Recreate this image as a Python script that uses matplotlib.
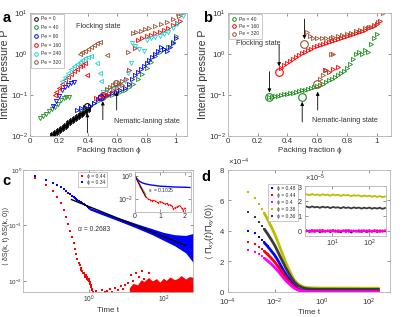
import matplotlib
matplotlib.use('Agg')
import matplotlib.pyplot as plt
from matplotlib.lines import Line2D
import numpy as np

plt.rcParams['font.family'] = ['Liberation Sans', 'DejaVu Sans', 'STIXGeneral']
plt.rcParams['mathtext.fontset'] = 'custom'
plt.rcParams['mathtext.rm'] = 'Liberation Sans'
plt.rcParams['mathtext.it'] = 'Liberation Sans:italic'
plt.rcParams['mathtext.bf'] = 'Liberation Sans:bold'
plt.rcParams['mathtext.fallback'] = 'stixsans'

# ---------------- colours ----------------
C_K = '#000000'; C_G = '#1a8f1a'; C_B = '#0000ff'; C_R = '#ff0000'
C_C = '#19d4d4'; C_BR = '#a0522d'
C_Y = '#bdbd00'; C_DK = '#3a3a3a'; C_M = '#ff00ff'

# ---------------- panel a data ----------------
pe_labels_a = ['Pe = 0', 'Pe = 40', 'Pe = 80', 'Pe = 160', 'Pe = 240', 'Pe = 320']

pe0_phi = [0.15,0.16,0.17,0.18,0.19,0.20,0.21,0.22,0.23,0.24,0.25,0.26,0.27,0.28,0.29,0.30,
           0.31,0.32,0.33,0.34,0.35,0.36,0.37,0.38,0.39,0.40]
pe0_P = [0.0105,0.011,0.0118,0.0125,0.0133,0.014,0.015,0.016,0.017,0.018,0.019,0.0202,0.0215,
         0.0228,0.024,0.0255,0.027,0.0285,0.030,0.032,0.034,0.036,0.038,0.040,0.043,0.046]

pe40_lo_phi = [0.35,0.38,0.41,0.44,0.47,0.50,0.53,0.56,0.59,0.62,0.65,0.68,0.71,0.74,0.77,0.80,
               0.83,0.86,0.89,0.92,0.95,0.98,1.00]
pe40_lo_P = [0.042,0.048,0.055,0.063,0.072,0.082,0.092,0.10,0.11,0.12,0.135,0.16,0.19,0.24,0.32,
             0.45,0.65,0.9,1.1,1.3,1.5,2.0,2.8]
pe40_hi_phi = [0.07,0.09,0.11,0.13,0.15,0.17,0.19,0.21,0.23,0.25,0.27]
pe40_hi_P = [0.028,0.031,0.035,0.04,0.045,0.052,0.06,0.075,0.085,0.088,0.09]

pe80_lo_phi = [0.32,0.35,0.38,0.41,0.44,0.47,0.50,0.53,0.56,0.59,0.62,0.65,0.68,0.70,0.72,0.74,
               0.76,0.78,0.80,0.82,0.84,0.86,0.88,0.90,0.92,0.94,0.96,0.98,1.0]
pe80_lo_P = [0.043,0.047,0.05,0.055,0.065,0.078,0.09,0.1,0.11,0.12,0.13,0.15,0.19,0.24,0.3,0.36,
             0.42,0.5,0.6,0.7,0.85,1.0,1.2,1.45,1.35,1.2,1.5,1.9,2.4]
pe80_hi_phi = [0.16,0.18,0.20,0.22,0.24,0.26,0.28,0.30]
pe80_hi_P = [0.055,0.07,0.095,0.13,0.16,0.18,0.2,0.21]

pe160_hi_phi = [0.17,0.18,0.20,0.22,0.24,0.26,0.28,0.30,0.32,0.34,0.36,0.38,0.39]
pe160_hi_P = [0.1,0.12,0.15,0.19,0.23,0.28,0.32,0.38,0.44,0.5,0.55,0.62,0.3]
pe160_lo_phi = [0.45,0.48,0.51,0.54,0.57,0.60,0.63,0.66,0.68,0.72,0.74,0.77,0.80,0.83,0.86,0.89,
                0.92,0.95,0.98,1.01,1.03]
pe160_lo_P = [0.085,0.09,0.1,0.11,0.13,0.15,0.18,0.25,0.4,1.4,2.2,2.5,2.7,2.9,3.2,3.5,3.9,4.4,
              5.0,5.8,6.3]

pe240_hi_phi = [0.22,0.24,0.26,0.28,0.30,0.32,0.34,0.36,0.38,0.40,0.42,0.46,0.48,0.49]
pe240_hi_P = [0.22,0.28,0.35,0.42,0.5,0.58,0.65,0.72,0.8,0.85,0.9,0.6,0.35,0.22]
pe240_lo_phi = [0.50,0.53,0.56,0.59,0.62,0.65,0.67,0.69,0.70,0.72,0.75,0.78,0.80,0.83,0.86,0.89,
                0.92,0.95,0.98,1.01,1.05]
pe240_lo_P = [0.12,0.13,0.14,0.16,0.18,0.22,0.35,0.6,1.9,1.6,1.3,1.2,2.2,2.4,2.6,2.8,3.0,3.5,
              4.2,5.5,8.5]

pe320_hi_phi = [0.34,0.36,0.38,0.40,0.42,0.44,0.46,0.48,0.53]
pe320_hi_P = [1.0,1.1,1.2,1.3,1.45,1.65,1.85,2.0,0.95]
pe320_lo_phi = [0.53,0.55,0.57,0.59,0.61,0.63,0.675,0.71,0.73,0.76,0.79,0.82,0.86,0.90,0.94,
                0.98,1.02,1.04]
pe320_lo_P = [0.14,0.16,0.18,0.19,0.2,0.22,1.1,3.3,3.5,3.7,4.0,4.3,4.7,5.3,5.9,7.0,8.5,9.8]

a_circ_phi = [0.39, 0.49, 0.50, 0.59]
a_circ_P = [0.053, 0.09, 0.1, 0.2]
a_circ_col = [C_K, C_B, C_R, C_BR]
a_arrow_phi = [0.394, 0.50, 0.595]
a_arrow_tail = [0.012, 0.025, 0.043]
a_arrow_tip = [0.036, 0.07, 0.12]

# ---------------- panel b data ----------------
pe_labels_b = ['Pe = 40', 'Pe = 160', 'Pe = 320']
b40_phi = [0.28,0.30,0.32,0.34,0.36,0.38,0.40,0.42,0.44,0.46,0.48,0.50,0.52,0.54,0.56,0.58,0.60,
           0.62,0.64,0.66,0.68,0.70,0.72,0.74,0.76,0.78,0.80,0.82,0.84,0.86,0.88,0.90,0.92,0.94,
           0.96,0.98,1.00]
b40_P = [0.09,0.088,0.092,0.097,0.1,0.105,0.105,0.11,0.115,0.12,0.125,0.13,0.13,0.14,0.15,0.16,
         0.17,0.18,0.19,0.21,0.23,0.25,0.28,0.31,0.34,0.39,0.46,0.56,0.75,1.0,1.15,1.0,1.25,1.1,
         1.8,2.5,3.0]
b160_phi = [0.36,0.38,0.40,0.42,0.44,0.46,0.48,0.50,0.52,0.54,0.56,0.58,0.60,0.62,0.64,0.66,0.68,
            0.70,0.72,0.74,0.76,0.78,0.80,0.82,0.84,0.86,0.88,0.90,0.92,0.94,0.96,0.98,1.00,1.02,
            0.65,0.68,0.71,0.74]
b160_P = [0.45,0.55,0.62,0.68,0.75,0.85,0.95,1.05,1.15,1.25,1.35,1.45,1.55,1.65,1.75,1.85,2.0,
          2.1,2.2,2.3,2.5,2.6,2.8,2.9,3.1,3.3,3.5,3.7,3.9,4.2,4.5,4.9,5.5,6.5,
          0.4,0.37,0.42,0.48]
b320_phi = [0.53,0.55,0.57,0.60,0.63,0.66,0.69,0.71,0.74,0.77,0.80,0.83,0.86,0.89,0.92,0.95,0.98,
            1.01,1.04,0.62,0.64,0.66,0.69,0.71]
b320_P = [3.5,2.8,2.4,2.4,2.4,2.4,2.5,2.6,2.7,2.9,3.0,3.2,3.6,3.9,4.2,4.6,5.0,6.0,10.0,
          0.24,0.3,0.4,1.0,1.0]
b_circ_phi = [0.28, 0.345, 0.515, 0.50, 0.60]
b_circ_P = [0.09, 0.37, 1.8, 0.087, 0.19]
b_circ_col = [C_G, C_R, C_BR, C_G, C_BR]
b_arrow_phi = [0.345, 0.28, 0.515, 0.50, 0.604]
b_arrow_tail = [1.67, 0.37, 7.1, 0.022, 0.043]
b_arrow_tip = [0.5, 0.115, 2.3, 0.068, 0.12]

# ---------------- panel c data ----------------
c_labels = ['\u03d5 = 0.44', '\u03d5 = 0.34']
red_t = [0.034,0.068,0.102,0.136,0.17,0.204,0.238,0.272,0.306,0.34,0.374,0.408,0.442,0.476,0.51,
         0.544,0.578,0.612,0.646,0.68,0.714,0.748,0.782,0.816,0.85,0.884,0.918,0.952,0.986,1.02,
         1.054,1.088,1.122,1.156,1.19,1.224,1.258]
red_y = [0.71,0.54,0.42,0.32,0.25,0.19,0.14,0.105,0.08,0.062,0.048,0.038,0.03,0.025,0.021,0.019,
         0.017,0.016,0.015,0.014,0.014,0.013,0.012,0.013,0.012,0.011,0.0105,0.011,0.01,0.0095,
         0.0088,0.0083,0.0078,0.0072,0.0068,0.0063,0.006]
red_sp_t = [1.5,1.8,2.2,2.6,3.0,3.5,4.0,5.0,6.0,7.0,8.0,9.0,11,13,15,18,22,26,30,40]
red_sp_y = [0.0065,0.006,0.0068,0.0062,0.0066,0.007,0.0064,0.0075,0.0068,0.008,0.0072,0.0085,
            0.009,0.013,0.01,0.014,0.012,0.015,0.011,0.014]
red_env_t = [12,15,20,25,30,40,50,65,80,100,120,150,200,250,300,400,500,650]
red_env_hi = [0.0075,0.009,0.0085,0.0105,0.0098,0.0115,0.01,0.011,0.0095,0.0112,
              0.0102,0.0118,0.0105,0.0112,0.0125,0.0108,0.012,0.0115]
blue_t = [0.034,0.068,0.102,0.136,0.17,0.204,0.238,0.272,0.306,0.34,0.374,0.408,0.442,0.476,0.51,
          0.578,0.646,0.714,0.782,0.85,0.918,0.986]
blue_y = [0.79,0.66,0.58,0.53,0.49,0.46,0.42,0.39,0.365,0.345,0.33,0.315,0.3,0.29,0.28,0.265,
          0.25,0.24,0.23,0.22,0.212,0.205]
blue_env_t = [1.0,2.0,5.0,10,20,50,100,200,400,650]
blue_env_mid = [0.2,0.168,0.135,0.115,0.097,0.077,0.064,0.053,0.044,0.04]
blue_env_lo = [0.192,0.16,0.127,0.106,0.088,0.068,0.054,0.043,0.032,0.021]
blue_env_hi = [0.208,0.176,0.143,0.124,0.106,0.087,0.075,0.068,0.066,0.072]
fit_alpha_t = [0.33, 390]
fit_alpha = 0.2683
fit_alpha_amp = 0.217
# inset
ci_blue_t = [0,0.05,0.1,0.15,0.2,0.3,0.4,0.5,0.6,0.8,1.0,1.3,1.6,2.0,2.2]
ci_blue_y = [1,0.7,0.5,0.4,0.32,0.25,0.21,0.19,0.17,0.15,0.13,0.12,0.11,0.105,0.1]
ci_red_t = [0,0.1,0.2,0.33,0.4,0.53,0.6,0.67,0.73,0.8,0.87,0.93,1.0,1.07,1.13,1.2,1.27,1.33,1.4,
            1.47,1.53,1.6,1.67,1.73,1.8,1.87,1.93,2.0]
ci_red_y = [1,0.35,0.12,0.037,0.02,0.01,0.009,0.007,0.008,0.007,0.0055,0.005,0.006,0.0055,0.0045,
            0.0037,0.0042,0.003,0.0033,0.0027,0.0014,0.0018,0.002,0.0024,0.0027,0.0016,0.001,0.0017]
tau_c = 0.1025
tau_t = [0, 0.45]
brown_tau = 0.115
brown_t = [0, 0.42]

# ---------------- panel d data ----------------
d_labels = ['\u03d5 = 0.48', '\u03d5 = 0.44', '\u03d5 = 0.4', '\u03d5 = 0.38', '\u03d5 = 0.36']
d_t = [7e-4,1.4e-3,2.1e-3,2.8e-3,3.5e-3,5e-3,7e-3,0.01,0.015,0.02,0.03,0.05,0.07,0.1,0.15,0.2,
       0.3,0.5,1,3,10,30,100,300]
d_y48 = [4.01,3.84,3.6,3.4,3.25,2.98,2.7,2.4,1.95,1.6,1.15,0.65,0.38,0.18,0.08,0.04,0.015,0.005,
         0,0,0,0,0,0]
d_y44 = [3.25,3.11,2.95,2.8,2.68,2.45,2.22,1.95,1.6,1.3,0.92,0.52,0.3,0.14,0.06,0.03,0.01,0.003,
         0,0,0,0,0,0]
d_y40 = [2.74,2.59,2.45,2.33,2.22,2.03,1.83,1.6,1.3,1.05,0.72,0.4,0.22,0.1,0.04,0.02,0.008,0.002,
         0,0,0,0,0,0]
d_y38 = [6.58,6.14,5.75,5.45,5.2,4.75,4.3,3.8,3.1,2.6,1.9,1.15,0.75,0.5,0.35,0.29,0.26,0.245,
         0.24,0.24,0.24,0.235,0.23,0.23]
d_y36 = [5.22,4.89,4.6,4.35,4.15,3.8,3.45,3.05,2.5,2.1,1.55,0.95,0.62,0.4,0.27,0.21,0.18,0.165,
         0.16,0.16,0.155,0.155,0.15,0.15]
di_t = [2,2.4,2.8,3.3,3.9,4.6,5.4,6.4,7.5,8.8,10.4,12.2,14.4,17,20,23.5,27.7,32.6,38.4,45,53,
        62.5,73.6,86.7,102,120,141,166,196,231,272]
di_y38 = [2.45,2.38,2.47,2.4,2.44,2.36,2.46,2.39,2.43,2.35,2.44,2.38,2.42,2.34,2.41,2.37,2.4,2.32,
          2.39,2.35,2.38,2.3,2.37,2.31,2.36,2.28,2.34,2.27,2.33,2.26,2.3]
di_y36 = [1.62,1.56,1.64,1.57,1.61,1.54,1.62,1.56,1.6,1.52,1.6,1.55,1.58,1.51,1.59,1.53,1.57,1.5,
          1.57,1.52,1.56,1.49,1.55,1.5,1.56,1.48,1.54,1.49,1.55,1.47,1.53]
di_y48 = [0.02,-0.08,0.05,-0.05,0.03,-0.1,0.04,-0.06,0.02,-0.09,0.05,-0.04,0.01,-0.1,0.03,-0.06,
          0.04,-0.12,0.02,-0.05,0.03,-0.08,0.01,-0.1,0.04,-0.07,0.02,-0.09,0.03,-0.06,0.01]
di_y44 = [-0.04,0.03,-0.07,0.04,-0.02,0.05,-0.08,0.02,-0.05,0.04,-0.06,0.03,-0.09,0.02,-0.04,0.05,
          -0.07,0.03,-0.05,0.02,-0.08,0.04,-0.03,0.03,-0.07,0.02,-0.05,0.04,-0.08,0.03,-0.04]
di_y40 = [0.01,-0.06,0.04,-0.09,0.02,-0.04,0.06,-0.07,0.03,-0.05,0.01,-0.08,0.04,-0.03,0.02,-0.09,
          0.05,-0.04,0.01,-0.07,0.03,-0.05,0.04,-0.08,0.02,-0.04,0.05,-0.07,0.01,-0.05,0.03]

# ---------------- figure ----------------
fig = plt.figure(figsize=(4.15, 3.17), dpi=100)
ax_a = fig.add_axes([0.0723, 0.571, 0.378, 0.388])
ax_b = fig.add_axes([0.5487, 0.571, 0.3935, 0.388])
ax_c = fig.add_axes([0.0547, 0.0789, 0.4096, 0.385])
ax_d = fig.add_axes([0.5487, 0.0798, 0.391, 0.384])
ax_ci = fig.add_axes([0.3253, 0.3322, 0.1342, 0.1252])
ax_di = fig.add_axes([0.7349, 0.2555, 0.1952, 0.1575])

SP = '#b4b4b4'; TC = '#333333'
TL = 5.8   # tick label size
XL = 5.8   # x-label size
TX = 5.2   # annotation text size


def style(ax, ls=TL):
    for s in ax.spines.values():
        s.set_color(SP)
        s.set_linewidth(0.6)
    ax.tick_params(which='both', direction='in', length=2, width=0.5, color='#666666',
                   labelsize=ls, labelcolor=TC, pad=1.5, top=True, right=True)
    ax.tick_params(which='minor', length=0)


MS = 3.0; MEW = 0.6


def tri(ax, x, y, col, mk):
    ax.plot(x, y, linestyle='none', marker=mk, ms=MS, mfc='none', mec=col, mew=MEW)


def legend_style(leg):
    leg.get_frame().set_edgecolor(SP)
    leg.get_frame().set_linewidth(0.5)
    for t in leg.get_texts():
        t.set_color(TC)


# ---- panel a ----
ax = ax_a
tri(ax, pe0_phi, pe0_P, C_K, '<')
tri(ax, pe0_phi, pe0_P, C_K, '>')
tri(ax, pe40_hi_phi, pe40_hi_P, C_G, 'v')
tri(ax, pe40_lo_phi, pe40_lo_P, C_G, '>')
tri(ax, pe80_hi_phi, pe80_hi_P, C_B, 'v')
tri(ax, pe80_lo_phi, pe80_lo_P, C_B, '>')
tri(ax, pe160_hi_phi, pe160_hi_P, C_R, '<')
tri(ax, pe160_lo_phi, pe160_lo_P, C_R, '>')
tri(ax, pe240_hi_phi, pe240_hi_P, C_C, '<')
tri(ax, pe240_lo_phi, pe240_lo_P, C_C, 'v')
tri(ax, pe320_hi_phi, pe320_hi_P, C_BR, '<')
tri(ax, pe320_lo_phi, pe320_lo_P, C_BR, '>')
for x, y, c in zip(a_circ_phi, a_circ_P, a_circ_col):
    ax.plot(x, y, 'o', ms=4.2, mfc='none', mec=c, mew=0.8)
for x, t0, t1 in zip(a_arrow_phi, a_arrow_tail, a_arrow_tip):
    ax.annotate('', xy=(x, t1), xytext=(x, t0),
                arrowprops=dict(arrowstyle='-|>', color='k', lw=0.6, mutation_scale=5,
                                shrinkA=0, shrinkB=0))
ax.set_yscale('log')
ax.set_xlim(0, 1.077)
ax.set_ylim(1e-2, 10)
ax.set_xticks([0, 0.2, 0.4, 0.6, 0.8, 1.0])
ax.set_xticklabels(['0', '0.2', '0.4', '0.6', '0.8', '1'])
ax.set_yticks([1e-2, 1e-1, 1e0, 1e1])
style(ax)
ax.set_xlabel('Packing fraction \u03d5', fontsize=XL, color=TC, labelpad=1.5)
ax.set_ylabel('Internal pressure P', fontsize=7.6, color=TC, labelpad=0.5)
ax.text(0.47, 4.8, 'Flocking state', fontsize=TX, color=TC, ha='center', va='center')
ax.text(0.80, 0.022, 'Nematic-laning state', fontsize=TX, color=TC, ha='center', va='center')
cols_a = [C_K, C_G, C_B, C_R, C_C, C_BR]
h = [Line2D([], [], ls='none', marker='o', ms=2.6, mfc='none', mec=c, mew=0.7) for c in cols_a]
leg = ax.legend(h, pe_labels_a, loc='upper left', fontsize=3.6, handlelength=0.9,
                handletextpad=0.6, labelspacing=0.75, borderpad=0.55, borderaxespad=0.15,
                fancybox=False, framealpha=1)
legend_style(leg)

# ---- panel b ----
ax = ax_b
tri(ax, b40_phi, b40_P, C_G, '>')
tri(ax, b160_phi, b160_P, C_R, '>')
tri(ax, b320_phi, b320_P, C_BR, '>')
for x, y, c in zip(b_circ_phi, b_circ_P, b_circ_col):
    ax.plot(x, y, 'o', ms=5.5, mfc='none', mec=c, mew=0.8)
for x, t0, t1 in zip(b_arrow_phi, b_arrow_tail, b_arrow_tip):
    ax.annotate('', xy=(x, t1), xytext=(x, t0),
                arrowprops=dict(arrowstyle='-|>', color='k', lw=0.6, mutation_scale=5,
                                shrinkA=0, shrinkB=0))
ax.set_yscale('log')
ax.set_xlim(0, 1.096)
ax.set_ylim(1e-2, 10)
ax.set_xticks([0, 0.2, 0.4, 0.6, 0.8, 1.0])
ax.set_xticklabels(['0', '0.2', '0.4', '0.6', '0.8', '1'])
ax.set_yticks([1e-2, 1e-1, 1e0, 1e1])
style(ax)
ax.set_xlabel('Packing fraction \u03d5', fontsize=XL, color=TC, labelpad=1.5)
ax.set_ylabel('Internal pressure P', fontsize=7.6, color=TC, labelpad=0.5)
ax.text(0.205, 1.8, 'Flocking state', fontsize=TX, color=TC, ha='center', va='center')
ax.text(0.79, 0.024, 'Nematic-laning state', fontsize=TX, color=TC, ha='center', va='center')
h = [Line2D([], [], ls='none', marker='o', ms=2.6, mfc='none', mec=c, mew=0.7)
     for c in [C_G, C_R, C_BR]]
leg = ax.legend(h, pe_labels_b, loc='upper left', fontsize=3.6, handlelength=0.9,
                handletextpad=0.6, labelspacing=0.45, borderpad=0.5, borderaxespad=0.3,
                fancybox=False, framealpha=1)
legend_style(leg)

# ---- panel c ----
ax = ax_c
ax.fill_between(red_env_t, [0.006] * len(red_env_t), red_env_hi, color=C_R, lw=0)
ax.plot(red_sp_t, red_sp_y, 's', ms=1.6, color=C_R, mew=0)
ax.plot(red_t, red_y, 's', ms=1.9, color=C_R, mew=0)
ax.fill_between(blue_env_t, blue_env_lo, blue_env_hi, color=C_B, lw=0)
ax.plot(blue_env_t, blue_env_mid, '-', color=C_B, lw=1.2)
ax.plot(blue_t, blue_y, 's', ms=1.9, color=C_B, mew=0)
ax.plot(fit_alpha_t, [fit_alpha_amp * t ** (-fit_alpha) for t in fit_alpha_t], '-', color='k', lw=1.0)
ax.text(0.5, 0.083, '\u03b1 = 0.2683', fontsize=4.9, color=TC, ha='left', va='center')
ax.set_xscale('log'); ax.set_yscale('log')
ax.set_xlim(10 ** -1.8, 10 ** 2.79)
ax.set_ylim(10 ** -2.2, 1)
ax.set_xticks([1, 100])
ax.set_yticks([1e-2, 1e-1, 1])
style(ax, ls=4.5)
ax.tick_params(axis='y', pad=0.5)
ax.tick_params(axis='x', labelsize=4.8)
ax.set_xlabel('Time t', fontsize=XL, color=TC, labelpad=1.5)
ax.set_ylabel('\u27e8 \u03b4S(k, t) \u03b4S(k, 0)\u27e9', fontsize=5.2, color=TC)
ax.yaxis.set_label_coords(-0.076, 0.46)
h = [Line2D([], [], ls='none', marker='s', ms=1.8, color=c, mew=0) for c in [C_R, C_B]]
leg = ax.legend(h, c_labels, loc='upper left', bbox_to_anchor=(0.325, 0.985), fontsize=3.6,
                handlelength=0.8, handletextpad=0.6, labelspacing=0.3, borderpad=0.35,
                borderaxespad=0, fancybox=False, framealpha=1)
legend_style(leg)

ax = ax_ci
ax.plot(ci_blue_t, ci_blue_y, '-', color=C_B, lw=1.0)
ax.plot(ci_red_t, ci_red_y, '-', color=C_R, lw=0.6)
ax.plot(ci_red_t, ci_red_y, 's', color=C_R, ms=0.9, mew=0)
ax.plot(brown_t, [np.exp(-t / brown_tau) for t in brown_t], '-', color=C_BR, lw=0.7)
ax.plot(tau_t, [np.exp(-t / tau_c) for t in tau_t], '-', color='k', lw=0.5)
ax.text(0.52, 0.05, r'$\tau_c$ = 0.1025', fontsize=3.6, color=TC, ha='left', va='center')
ax.set_yscale('log')
ax.set_xlim(0, 2.23)
ax.set_ylim(8e-4, 2.2)
ax.set_xticks([0, 1, 2])
ax.set_yticks([1e-2, 1])
style(ax, ls=5.0)
ax.tick_params(pad=1)
ax.set_facecolor('white')

# ---- panel d ----
ax = ax_d
for yy, c in [(d_y38, C_Y), (d_y36, C_DK), (d_y48, C_B), (d_y44, C_R), (d_y40, C_M)]:
    v = [q * 1e-4 for q in yy]
    ax.plot(d_t[4:], v[4:], '-', color=c, lw=2.0, solid_capstyle='butt')
    ax.plot(d_t[:6], v[:6], 's', color=c, ms=2.0, mew=0)
ax.set_xscale('log')
ax.set_xlim(1e-4, 10 ** 2.91)
ax.set_ylim(0, 8e-4)
ax.set_xticks([1e-4, 1e-2, 1, 1e2])
ax.set_yticks([0, 2e-4, 4e-4, 6e-4, 8e-4])
ax.ticklabel_format(axis='y', style='sci', scilimits=(0, 0), useMathText=True)
style(ax, ls=5.6)
ax.tick_params(axis='x', pad=3.5)
ax.tick_params(axis='y', pad=2.0)
ax.yaxis.get_offset_text().set_fontsize(5.6)
ax.yaxis.get_offset_text().set_color(TC)
ax.set_xlabel('Time t', fontsize=XL, color=TC, labelpad=0.5)
ax.set_ylabel(r'$\langle\ \Pi_{xy}(t)\Pi_{xy}(0)\rangle$', fontsize=6.6, color=TC)
ax.yaxis.set_label_coords(-0.068, 0.5)
cols_d = [C_B, C_R, C_M, C_Y, C_DK]
h = [Line2D([], [], ls='none', marker='s', ms=1.8, color=c, mew=0) for c in cols_d]
leg = ax.legend(h, d_labels, loc='upper left', bbox_to_anchor=(0.248, 0.885), fontsize=3.6,
                handlelength=0.8, handletextpad=0.6, labelspacing=0.4, borderpad=0.45,
                borderaxespad=0, fancybox=False, framealpha=1)
legend_style(leg)

ax = ax_di
for yy, c in [(di_y38, C_Y), (di_y36, C_DK), (di_y48, C_B), (di_y44, C_R), (di_y40, C_M)]:
    ax.plot(di_t, [q * 1e-5 for q in yy], '-', color=c, lw=1.3)
ax.set_xscale('log')
ax.set_xlim(1.8, 290)
ax.set_ylim(-0.35e-5, 3e-5)
ax.set_xticks([10, 100])
ax.set_yticks([0, 1e-5, 2e-5, 3e-5])
ax.ticklabel_format(axis='y', style='sci', scilimits=(0, 0), useMathText=True)
style(ax, ls=5.2)
ax.yaxis.get_offset_text().set_fontsize(5.2)
ax.yaxis.get_offset_text().set_color(TC)
ax.set_facecolor('white')

# panel letters
for x, y, s in [(0.017, 0.943, 'a'), (0.501, 0.943, 'b'), (0.016, 0.428, 'c'), (0.496, 0.441, 'd')]:
    fig.text(x, y, s, fontsize=10.5, fontweight='bold', ha='center', va='center')

fig.savefig('out.png', dpi=100)
